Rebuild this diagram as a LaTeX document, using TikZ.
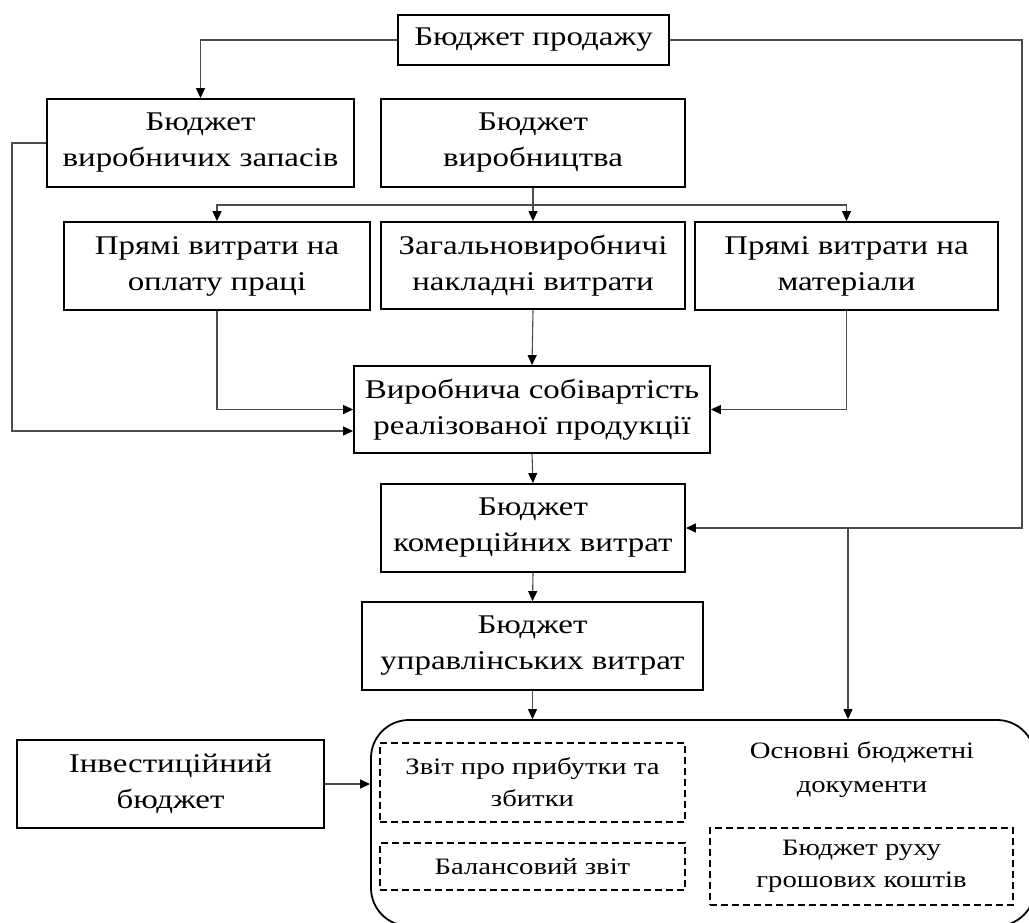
\documentclass[tikz,border=0pt]{standalone}
\usepackage{fontspec}
\setmainfont[FakeStretch=1.22]{Liberation Serif}
\usetikzlibrary{arrows.meta}
\begin{document}
\begin{tikzpicture}[x=1pt,y=-1pt,
  box/.style={draw=black,line width=1.8pt,align=center,inner sep=0pt,
    font=\fontsize{27}{36}\selectfont},
  dbox/.style={draw=black,line width=1.6pt,dash pattern=on 7pt off 4pt,align=center,inner sep=0pt,
    font=\fontsize{23.5}{32}\selectfont},
  conn/.style={draw=black!70,line width=1.1pt},
  arr/.style={conn,-{Triangle[length=10pt,width=9pt,fill=black,color=black]}}]
\clip (0,0) rectangle (1029,922);
\fill[white] (0,0) rectangle (1029,922);
% nodes
\node[box,minimum width=271pt,minimum height=50pt] (sales) at (533.5,40) {Бюджет продажу};
\node[box,minimum width=307pt,minimum height=88pt] (inv) at (200.5,143) {Бюджет\\виробничих запасів};
\node[box,minimum width=304pt,minimum height=88pt] (prod) at (533,143) {Бюджет\\виробництва};
\node[box,minimum width=306pt,minimum height=88pt] (labor) at (217,266) {Прямі витрати на\\оплату праці};
\node[box,minimum width=304pt,minimum height=87pt] (over) at (533,265.5) {Загальновиробничі\\накладні витрати};
\node[box,minimum width=303pt,minimum height=88pt] (mat) at (846.5,266) {Прямі витрати на\\матеріали};
\node[box,minimum width=356pt,minimum height=87pt] (cost) at (532,409.5) {Виробнича собівартість\\реалізованої продукції};
\node[box,minimum width=304pt,minimum height=88pt] (comm) at (533,528) {Бюджет\\комерційних витрат};
\node[box,minimum width=341pt,minimum height=88pt] (admin) at (532.5,646) {Бюджет\\управлінських витрат};
\node[box,minimum width=307pt,minimum height=88pt] (invest) at (170.5,784) {Інвестиційний\\бюджет};
\node[draw=black,line width=1.8pt,rounded corners=38pt,minimum width=664pt,minimum height=206pt,inner sep=0pt] (big) at (703,823) {};
\node[dbox,minimum width=305pt,minimum height=79pt] (pl) at (532.5,782.5) {Звіт про прибутки та\\збитки};
\node[dbox,minimum width=305pt,minimum height=47pt] (bal) at (532.5,866.5) {Балансовий звіт};
\node[dbox,minimum width=303pt,minimum height=77pt] (cash) at (861.5,866.5) {Бюджет руху\\грошових коштів};
\node[align=center,inner sep=0pt,font=\fontsize{23.5}{34}\selectfont] (doc) at (862,770) {Основні бюджетні\\документи};
% coordinates
\coordinate (rt) at (1022,528);
\coordinate (jn) at (848,528);
\coordinate (lf) at (12,431);
\coordinate (bus) at (533,205);
% connectors
\draw[arr] (sales.west) -| (inv.north);
\draw[arr] (sales.east) -| (rt) -- (comm.east);
\draw[arr] (jn) -- (jn |- big.north);
\draw[arr] (inv.west) -| (lf) -- (lf -| cost.west);
\draw[conn] (prod.south) -- (bus);
\draw[arr] (bus) -| (labor.north);
\draw[arr] (bus) -| (mat.north);
\draw[arr] (bus) -- (over.north);
\draw[arr] (labor.south) |- (cost.west);
\draw[arr] (mat.south) |- (cost.east);
\draw[arr] (over.south) -- (cost.north);
\draw[arr] (cost.south) -- (comm.north);
\draw[arr] (comm.south) -- (admin.north);
\draw[arr] (admin.south) -- (admin.south |- big.north);
\draw[arr] (invest.east) -- (invest.east -| big.west);
\end{tikzpicture}
\end{document}
